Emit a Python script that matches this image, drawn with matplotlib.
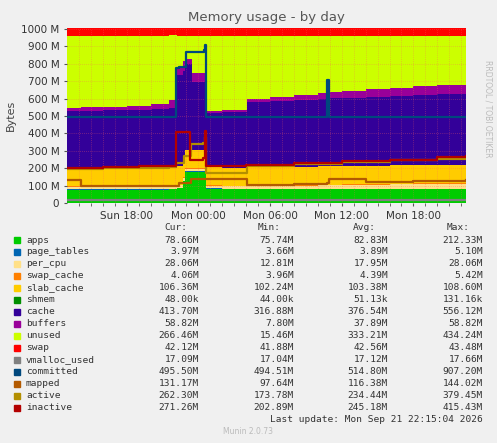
import matplotlib
matplotlib.use("Agg")
import matplotlib.pyplot as plt
import numpy as np

# hours relative to Mon 00:00
T = [-11.0, -9.8, -8, -6, -4, -2.5, -1.8, -1.3, -1.1, -0.55, 0.45, 0.65, 2.0, 4.08,
     6, 8, 10, 10.8, 11.0, 12, 14, 16, 18, 20, 22.4]
apps = [76, 76, 76, 76, 76, 78, 85, 125, 178, 178, 178, 80, 79, 79, 79, 79, 79, 79, 79, 79, 79, 79, 79, 79, 79]
page_tables = [4] * 25
per_cpu = [13, 13, 13, 13, 13, 13, 13, 14, 15, 15, 15, 13, 13, 14, 15, 16, 18, 19, 19, 20, 22, 24, 26, 28, 28]
swap_cache = [4, 4, 4, 4, 4, 4, 4, 4, 5, 5, 5, 4, 4, 4, 4, 4, 4, 4, 4, 4, 4, 4, 4, 4, 4]
slab_cache = [103, 103, 103, 103, 103, 103, 105, 108, 100, 100, 100, 104, 104, 104, 104, 104, 105, 105, 105, 105,
              105, 106, 106, 106, 106]
shmem = [0.05] * 25
cache = [328, 329, 333, 337, 341, 344, 524, 505, 498, 395, 395, 315, 318, 377, 382, 387, 390, 391, 392, 394,
         397, 400, 403, 405, 409]
buffers = [18, 20, 21, 23, 29, 46, 48, 58, 30, 48, 48, 10, 13, 17, 22, 27, 32, 34, 35, 38, 42, 46, 51, 55, 58]
unused = [415, 412, 407, 401, 391, 371, 178, 143, 131, 216, 216, 431, 426, 362, 351, 340, 329, 325, 323, 317,
          308, 298, 288, 280, 273]
swap = [43] * 25

T_vm = [-11.0, 22.4]
vmalloc_used = [17, 17]
T_com = [-11.0, -1.9, -1.6, -1.0, 0.45, 0.55, 0.65, 10.8, 10.95, 22.4]
committed = [495, 775, 780, 870, 880, 907, 495, 707, 495, 495]
T_map = [-11.0, -9.8, -2.0, -1.6, -0.6, 0.65, 4.1, 8, 10.8, 10.95, 14, 18, 22.4]
mapped = [130, 98, 98, 115, 138, 140, 105, 110, 115, 140, 118, 125, 131]
T_act = [-11.0, -8, -5, -2.5, -1.9, -1.2, -0.6, 0.4, 0.55, 0.65, 4.1, 8, 12, 16, 20, 22.4]
active = [198, 200, 203, 205, 230, 270, 340, 345, 380, 175, 210, 225, 235, 245, 255, 262]
T_ina = [-11.0, -8, -5, -1.9, -0.7, 0.4, 0.55, 0.65, 2, 4, 8, 12, 16, 20, 22.4]
inactive = [203, 208, 213, 410, 250, 260, 415, 215, 215, 220, 230, 240, 250, 262, 271]

tick_pos = [-6, 0, 6, 12, 18]
tick_labels = ["Sun 18:00", "Mon 00:00", "Mon 06:00", "Mon 12:00", "Mon 18:00"]

names = ["apps", "page_tables", "per_cpu", "swap_cache", "slab_cache", "shmem", "cache", "buffers",
         "unused", "swap", "vmalloc_used", "committed", "mapped", "active", "inactive"]
colors = ["#00CC00", "#0066B3", "#FFE088", "#FF8000", "#FFCC00", "#008F00", "#330099", "#990099",
          "#CCFF00", "#FF0000", "#808080", "#00487D", "#B35A00", "#B38F00", "#B30000"]
cur = ["78.66M", "3.97M", "28.06M", "4.06M", "106.36M", "48.00k", "413.70M", "58.82M", "266.46M", "42.12M",
       "17.09M", "495.50M", "131.17M", "262.30M", "271.26M"]
mins = ["75.74M", "3.66M", "12.81M", "3.96M", "102.24M", "44.00k", "316.88M", "7.80M", "15.46M", "41.88M",
        "17.04M", "494.51M", "97.64M", "173.78M", "202.89M"]
avgs = ["82.83M", "3.89M", "17.95M", "4.39M", "103.38M", "51.13k", "376.54M", "37.89M", "333.21M", "42.56M",
        "17.12M", "514.80M", "116.38M", "234.44M", "245.18M"]
maxs = ["212.33M", "5.10M", "28.06M", "5.42M", "108.60M", "131.16k", "556.12M", "58.82M", "434.24M", "43.48M",
        "17.66M", "907.20M", "144.02M", "379.45M", "415.43M"]

W, H = 497, 443
fig = plt.figure(figsize=(W / 100, H / 100), dpi=100, facecolor="#F0F0F0")
def fx(x): return x / W
def fy(y): return 1 - y / H

ax = fig.add_axes([fx(67), fy(203), fx(466) - fx(67), fy(28) - fy(203)])
ax.set_facecolor("white")
stack = [apps, page_tables, per_cpu, swap_cache, slab_cache, shmem, cache, buffers, unused, swap]
base = np.zeros(len(T))
t = np.array(T)
for vals, c in zip(stack, colors[:10]):
    v = np.array(vals, float)
    ax.fill_between(t, base, base + v, step="post", color=c, linewidth=0, zorder=1)
    base = base + v
for tt, vals, c in [(T_vm, vmalloc_used, colors[10]), (T_com, committed, colors[11]), (T_map, mapped, colors[12]),
                    (T_act, active, colors[13]), (T_ina, inactive, colors[14])]:
    ax.step(tt, vals, where="post", color=c, lw=1.6, zorder=3)

ax.set_xlim(-11.0, 22.4)
ax.set_ylim(0, 1006)
ax.set_yticks(range(0, 1001, 100))
ax.set_yticklabels(["0"] + [f"{v} M" for v in range(100, 1001, 100)])
ax.set_xticks(tick_pos)
ax.set_xticklabels(tick_labels)
ax.set_xticks(np.arange(-10, 23, 1), minor=True)
ax.tick_params(labelsize=7.5, colors="#555555", length=2, which="both")
for lbl in ax.get_xticklabels() + ax.get_yticklabels():
    lbl.set_color("#333333")
ax.set_axisbelow(False)
ax.grid(True, which="both", color="#FF6060", linestyle=(0, (1, 2)), lw=0.5, alpha=0.6, zorder=2)
for s in ax.spines.values():
    s.set_visible(False)
ax.set_ylabel("Bytes", fontsize=8, color="#444444")

fig.text(fx(266), fy(18), "Memory usage - by day", ha="center", va="center", fontsize=9.5, color="#555555")
fig.text(fx(488), fy(60), "RRDTOOL / TOBI OETIKER", rotation=270, ha="center", va="top", fontsize=5.5,
         color="#BBBBBB")

mono = "DejaVu Sans Mono"
fs = 6.8
hy = 228
for txt, xr in [("Cur:", 187), ("Min:", 281), ("Avg:", 376), ("Max:", 470)]:
    fig.text(fx(xr), fy(hy), txt, ha="right", va="center", family=mono, fontsize=fs, color="#333333")
for i, n in enumerate(names):
    y = 240 + 12 * i
    fig.patches.append(plt.Rectangle((fx(14), fy(y + 3)), fx(6), fy(y - 3) - fy(y + 3), color=colors[i],
                                     transform=fig.transFigure))
    fig.text(fx(26), fy(y), n, ha="left", va="center", family=mono, fontsize=fs, color="#333333")
    for col, xr in [(cur, 199), (mins, 294), (avgs, 388), (maxs, 483)]:
        fig.text(fx(xr), fy(y), col[i], ha="right", va="center", family=mono, fontsize=fs, color="#333333")
fig.text(fx(483), fy(420), "Last update: Mon Sep 21 22:15:04 2026", ha="right", va="center", family=mono,
         fontsize=fs, color="#333333")
fig.text(fx(248), fy(432), "Munin 2.0.73", ha="center", va="center", fontsize=5.5, color="#BBBBBB")

fig.savefig("out.png", dpi=100, facecolor=fig.get_facecolor())
